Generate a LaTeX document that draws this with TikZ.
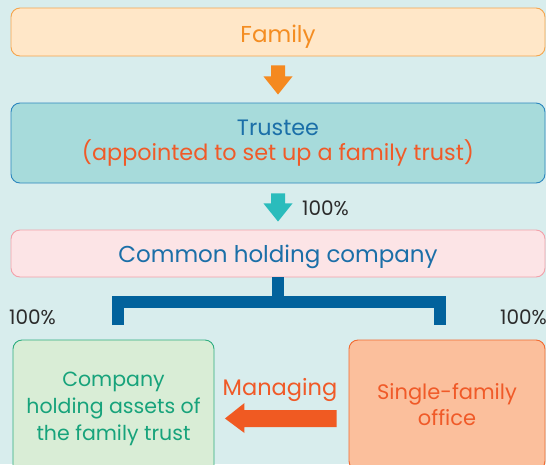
\documentclass[tikz,border=0pt]{standalone}
\usepackage{fontspec}
\setmainfont{Poppins}
\usetikzlibrary{calc}

\definecolor{bg}{HTML}{D8EDED}
\definecolor{famFill}{HTML}{FFE7C8}
\definecolor{famLine}{HTML}{F5A54E}
\definecolor{famText}{HTML}{F48D22}
\definecolor{truFill}{HTML}{A7DBDB}
\definecolor{truLine}{HTML}{2C86BE}
\definecolor{blueText}{HTML}{1B6FA8}
\definecolor{redText}{HTML}{F05A28}
\definecolor{comFill}{HTML}{FCE4E6}
\definecolor{comLine}{HTML}{F2A1AA}
\definecolor{assetFill}{HTML}{D9EDD6}
\definecolor{assetLine}{HTML}{2EAD80}
\definecolor{assetText}{HTML}{17A37B}
\definecolor{sfoFill}{HTML}{FBBF9C}
\definecolor{sfoLine}{HTML}{F26A30}
\definecolor{arrOrange}{HTML}{F5891F}
\definecolor{arrTeal}{HTML}{2ABCBC}
\definecolor{arrRed}{HTML}{F05A22}
\definecolor{bracket}{HTML}{01629C}
\definecolor{pctText}{HTML}{2B2B2B}

\tikzset{
  box/.style={draw, rounded corners=9pt, line width=0.9pt, inner sep=0pt,
    align=center, font=\fontsize{23}{27}\selectfont},
  pct/.style={text=pctText, inner sep=0pt, font=\fontsize{20}{22}\selectfont},
}

\begin{document}
\begin{tikzpicture}[x=1pt, y=-1pt]
  \clip (0,0) rectangle (546,464);
  \fill[bg] (0,0) rectangle (546,464);

  % main boxes
  \node[box, fill=famFill, draw=famLine, text=famText, text height=21pt, text depth=0pt,
        minimum width=534pt, minimum height=48pt] (family) at (278,32) {Family};
  \node[box, fill=truFill, draw=truLine, font=\fontsize{22.3}{25.5}\selectfont,
        minimum width=534pt, minimum height=80pt] (trustee) at (278,143)
        {\textcolor{blueText}{Trustee}\\\textcolor{redText}{(appointed to set up a family trust)}};
  \node[box, fill=comFill, draw=comLine, text=blueText, text height=17pt, text depth=0pt,
        minimum width=534pt, minimum height=47pt] (common) at (278,253.5)
        {Common holding company};
  \node[box, fill=assetFill, draw=assetLine, text=assetText,
        font=\fontsize{20.5}{27}\selectfont,
        minimum width=201pt, minimum height=138pt] (assets) at (113.5,409)
        {Company\\holding assets of\\the family trust};
  \node[box, fill=sfoFill, draw=sfoLine, text=redText,
        font=\fontsize{21}{26}\selectfont,
        minimum width=196pt, minimum height=130pt] (sfo) at (447,405)
        {Single-family\\office};

  % family -> trustee
  \fill[arrOrange] ($(family.south)+(-7,9)$) -- ($(family.south)+(7,9)$)
    -- ($(family.south)+(7,20)$) -- ($(family.south)+(14.5,20)$)
    -- ($(trustee.north)+(0,-8)$)
    -- ($(family.south)+(-14.5,20)$) -- ($(family.south)+(-7,20)$) -- cycle;

  % trustee -> common holding company
  \fill[arrTeal] ($(trustee.south)+(-7,10)$) -- ($(trustee.south)+(7,10)$)
    -- ($(trustee.south)+(7,20)$) -- ($(trustee.south)+(14.5,20)$)
    -- ($(common.north)+(0,-8)$)
    -- ($(trustee.south)+(-14.5,20)$) -- ($(trustee.south)+(-7,20)$) -- cycle;
  \node[pct, anchor=west] (p1) at (302,208) {100\%};

  % ownership bracket
  \coordinate (legL) at (118,325);
  \coordinate (legR) at (440,325);
  \draw[bracket, line width=12pt, line join=miter]
    (legL) -- (118,301.5) -- (440,301.5) -- (legR);
  \draw[bracket, line width=12pt] (common.south) -- ($(common.south)+(0,24.5)$);
  \node[pct, anchor=west] (p2) at (9,317) {100\%};
  \node[pct, anchor=east] (p3) at (547,317) {100\%};

  % management arrow
  \fill[arrRed] ($(sfo.west)+(-12,5)$) -- ($(sfo.west)+(-12,22)$)
    -- ($(assets.east)+(30,18)$) -- ($(assets.east)+(30,24)$)
    -- ($(assets.east)+(10.5,9.5)$)
    -- ($(assets.east)+(30,-6)$) -- ($(assets.east)+(30,1)$) -- cycle;
  \node[text=redText, inner sep=0pt, font=\fontsize{22.5}{27}\selectfont]
    (manage) at (280,390) {Managing};
\end{tikzpicture}
\end{document}
